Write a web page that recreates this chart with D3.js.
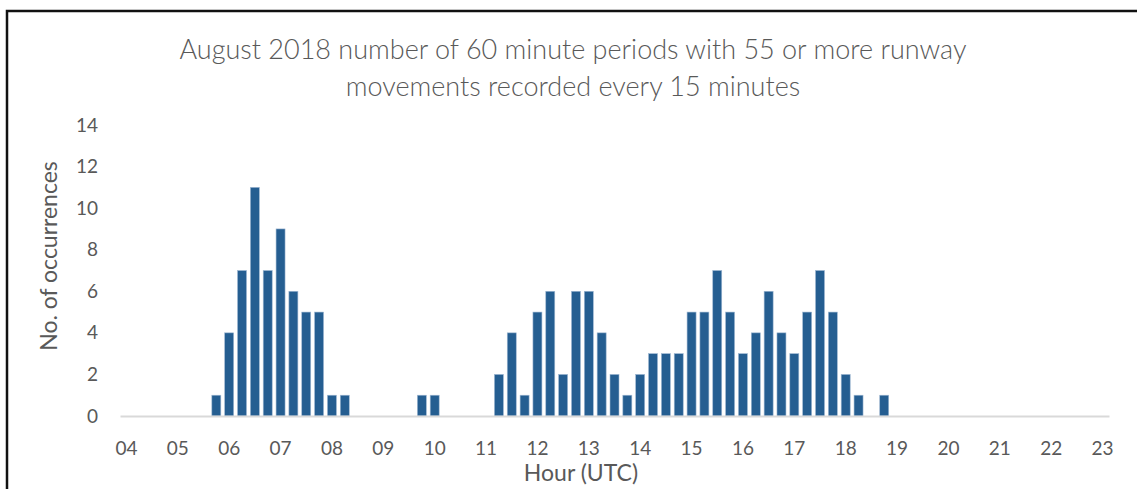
<!DOCTYPE html>
<html>
<head>
<meta charset="utf-8">
<script src="https://cdn.jsdelivr.net/npm/d3@7"></script>
<style>
  body { margin: 0; background: #fff; }
  svg text { font-family: Lato, "Open Sans", sans-serif; fill: #595959; }
</style>
</head>
<body>
<div id="chart"></div>
<script>
// 15 minute slots from 04:00 to 23:00
var slots = [];
for (var hr = 4; hr <= 23; hr++) {
  for (var mn = 0; mn < 60; mn += 15) {
    if (hr == 23 && mn > 0) break;
    slots.push((hr < 10 ? "0" : "") + hr + ":" + (mn == 0 ? "00" : mn));
  }
}

// number of occurrences per slot
var counts = [
  0, 0, 0, 0, 0, 0, 0,            // 04:00 - 05:30
  1, 4, 7, 11, 7, 9, 6, 5, 5, 1, 1, // 05:45 - 08:15
  0, 0, 0, 0, 0,                  // 08:30 - 09:30
  1, 1,                           // 09:45 - 10:00
  0, 0, 0, 0,                     // 10:15 - 11:00
  2, 4, 1, 5, 6, 2, 6, 6, 4, 2, 1, // 11:15 - 13:45
  2, 3, 3, 3, 5, 5, 7, 5, 3, 4, 6, // 14:00 - 16:30
  4, 3, 5, 7, 5, 2, 1, 0, 1,      // 16:45 - 18:45
  0, 0, 0, 0, 0, 0, 0, 0, 0, 0, 0, 0, 0, 0, 0, 0, 0 // 19:00 - 23:00
];

var yTicks = [0, 2, 4, 6, 8, 10, 12, 14];

var titleLines = ["August 2018 number of 60 minute periods with 55 or more runway",
                  "movements recorded every 15 minutes"];

var data = slots.map(function(s, i) { return {slot: s, count: counts[i]}; });

//Width and height
var w = 1137;
var h = 489;
var plotL = 120, plotR = 1109, plotT = 125, plotB = 416;

var svg = d3.select("#chart")
  .append("svg")
  .attr("width", w)
  .attr("height", h);

// frame (top and left edge only, the rest is cropped off)
svg.append("path")
  .attr("d", "M7,489 V11 H1137")
  .attr("fill", "none")
  .attr("stroke", "#111")
  .attr("stroke-width", 2.5);

var xScale = d3.scaleBand()
  .domain(slots)
  .range([plotL, plotR])
  .paddingInner(0.3)
  .paddingOuter(0.15);

var yScale = d3.scaleLinear()
  .domain([0, 14])
  .range([plotB, plotT]);

// bars
svg.selectAll(".bar")
  .data(data)
  .enter()
  .append("rect")
  .attr("class", "bar")
  .attr("x", function(d) { return xScale(d.slot); })
  .attr("y", function(d) { return yScale(d.count); })
  .attr("width", xScale.bandwidth())
  .attr("height", function(d) { return yScale(0) - yScale(d.count); })
  .attr("fill", "#255e91")
  .attr("stroke", "#9fb8d2")
  .attr("stroke-width", 0.6);

// X axis, one label per hour
var xAxis = d3.axisBottom(xScale)
  .tickValues(slots.filter(function(s) { return s.slice(3) == "00"; }))
  .tickFormat(function(s) { return s.slice(0, 2); })
  .tickSize(0)
  .tickSizeOuter(0);

var gx = svg.append("g")
  .attr("transform", "translate(0," + plotB + ")")
  .call(xAxis);
gx.select(".domain").attr("stroke", "#d9d9d9").attr("stroke-width", 2);
gx.selectAll("text")
  .attr("y", 32)
  .attr("dy", "0.35em")
  .style("font-size", "19px");

// Y axis
var yAxis = d3.axisLeft(yScale)
  .tickValues(yTicks)
  .tickSize(0);

var gy = svg.append("g")
  .attr("transform", "translate(" + (plotL - 22) + ",0)")
  .call(yAxis);
gy.select(".domain").remove();
gy.selectAll("text")
  .attr("x", 0)
  .style("font-size", "19px");

// axis titles
svg.append("text")
  .attr("transform", "rotate(-90)")
  .attr("x", -256)
  .attr("y", 49)
  .attr("dy", "0.35em")
  .style("text-anchor", "middle")
  .style("font-size", "23px")
  .text("No. of occurrences");

svg.append("text")
  .attr("x", 581)
  .attr("y", 473)
  .attr("dy", "0.35em")
  .style("text-anchor", "middle")
  .style("font-size", "23px")
  .text("Hour (UTC)");

// title
svg.selectAll(".title")
  .data(titleLines)
  .enter()
  .append("text")
  .attr("class", "title")
  .attr("x", 573)
  .attr("y", function(d, i) { return 50 + i * 37; })
  .attr("dy", "0.35em")
  .style("text-anchor", "middle")
  .style("font-size", "27px")
  .style("font-weight", 300)
  .text(function(d) { return d; });
</script>
</body>
</html>
